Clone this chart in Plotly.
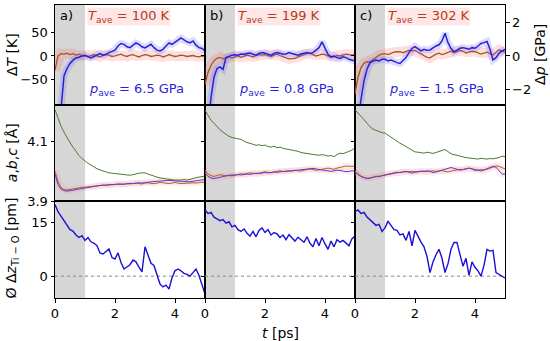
import plotly.graph_objects as go

# ---------------- data ----------------
t = [round(0.1 * i, 1) for i in range(51)]

T_ave_labels = ["100", "199", "302"]
p_ave_labels = ["6.5", "0.8", "1.5"]
panel_labels = ["a)", "b)", "c)"]

dT_a = [-30, 0, 5, 4, 6, 3, 5, 2, 4, 1, 2, -1, 1, 3, 0, -2, 1, 3, 2, -1, 0, 2, 4, 1, -1, 2, 3, 0, -2, 1,
        3, 2, -1, 0, 2, 1, -2, 0, 3, 1, -1, 0, 2, 1, -1, 0, 1, -1, -2, 0, -1]
dT_b = [-60, -35, -20, -10, -5, -3, -6, -4, -2, -4, -2, 0, -3, -1, 2, 0, -2, 1, 3, 2, 3, 1, -1, 2, 4, 1,
        -2, -4, -6, -5, -5, -2, 1, 3, 5, 6, 3, 0, 2, 4, 3, 0, -3, -2, 1, 0, 2, 4, 3, 2, 3]
dT_c = [-80, -45, -25, -15, -12, -13, -8, -3, 2, 4, 5, 3, 6, 8, 9, 9, 7, 10, 12, 11, 12, 8, 4, 0, -3, -4,
        0, 4, 6, 3, 5, 8, 10, 7, 9, 12, 10, 6, 8, 10, 9, 7, 4, 6, 8, 5, 2, 8, 13, 10, 8]

dp_a = [-5, -4.5, -3.2, -1.2, -0.75, -0.45, -0.25, -0.12, -0.08, 0.0, 0.02, -0.05, -0.12, -0.03, 0.08,
        0.15, 0.05, 0.1, 0.2, 0.28, 0.35, 0.6, 0.75, 0.7, 0.55, 0.5, 0.65, 0.78, 0.7, 0.55, 0.48, 0.6, 0.7,
        0.5, 0.35, 0.3, 0.4, 0.6, 0.78, 0.7, 0.8, 0.95, 1.08, 0.95, 0.85, 0.78, 0.9, 0.65, 0.5, 0.45, 0.3]
dp_b = [-6, -4, -2.5, -1.27, -0.75, -0.65, -0.8, -0.1, 0.0, 0.05, 0.08, 0.05, 0.12, 0.1, 0.15, 0.17, 0.1,
        0.05, 0.15, 0.2, 0.17, 0.1, 0.05, 0.15, 0.2, 0.17, 0.1, 0.12, 0.2, 0.15, 0.08, 0.05, 0.12, 0.18,
        0.2, 0.15, 0.2, 0.35, 0.5, 0.85, 0.45, 0.1, -0.05, 0.0, -0.1, -0.15, -0.05, -0.1, -0.2, -0.25, -0.3]
dp_c = [-6, -4, -2.6, -1.5, -0.8, -0.4, -0.3, -0.25, -0.3, -0.2, -0.2, -0.3, -0.25, -0.35, -0.4, -0.45,
        -0.3, -0.1, 0.2, 0.45, 0.56, 0.45, 0.3, 0.4, 0.35, 0.36, 0.5, 0.6, 0.67, 0.9, 1.37, 0.8, 0.45, 0.26,
        0.35, 0.46, 0.5, 0.45, 0.4, 0.5, 0.46, 0.6, 0.75, 0.8, 0.87, 0.4, -0.24, -0.1, 0.16, 0.3, 0.4]

latc_a = [4.205, 4.175, 4.15, 4.13, 4.11, 4.095, 4.08, 4.065, 4.052, 4.042, 4.033, 4.026, 4.02, 4.013,
          4.008, 4.004, 4.0, 3.997, 3.994, 3.993, 3.992, 3.99, 3.989, 3.987, 3.986, 3.986, 3.988, 3.991,
          3.993, 3.994, 3.994, 3.99, 3.986, 3.982, 3.98, 3.977, 3.975, 3.974, 3.972, 3.971, 3.97, 3.969,
          3.97, 3.972, 3.97, 3.972, 3.976, 3.978, 3.98, 3.982, 3.983]
latb_a = [4.0, 3.965, 3.945, 3.938, 3.937, 3.938, 3.94, 3.942, 3.944, 3.945, 3.947, 3.948, 3.95, 3.95,
          3.951, 3.953, 3.952, 3.954, 3.955, 3.954, 3.956, 3.957, 3.955, 3.957, 3.958, 3.957, 3.958, 3.96,
          3.958, 3.957, 3.96, 3.961, 3.959, 3.958, 3.96, 3.962, 3.961, 3.959, 3.958, 3.96, 3.962, 3.96,
          3.958, 3.959, 3.96, 3.962, 3.961, 3.96, 3.962, 3.963, 3.962]
lata_a = [3.99, 3.955, 3.94, 3.935, 3.933, 3.934, 3.936, 3.938, 3.94, 3.942, 3.944, 3.946, 3.948, 3.949,
          3.95, 3.952, 3.953, 3.952, 3.954, 3.955, 3.955, 3.956, 3.957, 3.956, 3.958, 3.959, 3.958, 3.96,
          3.961, 3.96, 3.962, 3.963, 3.964, 3.965, 3.966, 3.968, 3.969, 3.97, 3.969, 3.968, 3.967, 3.966,
          3.965, 3.964, 3.963, 3.964, 3.966, 3.968, 3.97, 3.971, 3.972]

latc_b = [4.203, 4.185, 4.17, 4.16, 4.148, 4.138, 4.13, 4.122, 4.116, 4.112, 4.11, 4.109, 4.106, 4.1,
          4.095, 4.093, 4.09, 4.086, 4.088, 4.085, 4.087, 4.082, 4.08, 4.083, 4.078, 4.08, 4.076, 4.074,
          4.072, 4.072, 4.07, 4.066, 4.062, 4.06, 4.058, 4.056, 4.055, 4.054, 4.053, 4.055, 4.053, 4.05,
          4.052, 4.048, 4.055, 4.06, 4.058, 4.062, 4.065, 4.07, 4.078]
latb_b = [4.003, 3.99, 3.985, 3.982, 3.985, 3.988, 3.986, 3.984, 3.986, 3.988, 3.987, 3.989, 3.991, 3.99,
          3.992, 3.994, 3.993, 3.991, 3.993, 3.996, 3.998, 3.996, 3.994, 3.997, 3.999, 4.001, 3.999, 3.998,
          4.0, 4.002, 4.003, 4.001, 4.0, 4.003, 4.005, 4.007, 4.005, 4.003, 4.004, 4.006, 4.008, 4.01,
          4.008, 4.006, 4.01, 4.013, 4.015, 4.017, 4.016, 4.017, 4.016]
lata_b = [3.995, 3.982, 3.977, 3.975, 3.977, 3.98, 3.982, 3.984, 3.985, 3.984, 3.986, 3.988, 3.987, 3.989,
          3.99, 3.989, 3.991, 3.993, 3.992, 3.994, 3.995, 3.994, 3.996, 3.997, 3.996, 3.998, 3.999, 4.0,
          4.001, 4.0, 4.002, 4.003, 4.004, 4.005, 4.006, 4.008, 4.009, 4.007, 4.005, 4.003, 4.002, 4.0,
          3.999, 4.001, 4.003, 4.002, 4.0, 3.998, 3.999, 4.001, 4.0]

latc_c = [4.205, 4.195, 4.185, 4.172, 4.16, 4.148, 4.14, 4.136, 4.13, 4.128, 4.127, 4.12, 4.113, 4.105,
          4.1, 4.093, 4.088, 4.082, 4.075, 4.068, 4.064, 4.063, 4.062, 4.06, 4.063, 4.061, 4.059, 4.062,
          4.065, 4.07, 4.072, 4.065, 4.058, 4.055, 4.052, 4.05, 4.048, 4.045, 4.044, 4.042, 4.042, 4.04,
          4.043, 4.041, 4.04, 4.042, 4.041, 4.043, 4.045, 4.05, 4.048]
latb_c = [4.0, 3.99, 3.983, 3.978, 3.976, 3.977, 3.979, 3.982, 3.984, 3.986, 3.988, 3.99, 3.991, 3.993,
          3.995, 3.996, 3.997, 3.998, 3.998, 3.999, 3.998, 3.997, 3.999, 4.0, 3.998, 4.0, 4.001, 3.999,
          4.0, 4.002, 3.999, 3.997, 4.0, 4.002, 4.004, 4.006, 4.005, 4.008, 4.01, 4.008, 4.006, 4.003,
          4.005, 4.004, 4.006, 4.01, 4.014, 4.017, 4.016, 4.012, 4.007]
lata_c = [3.998, 3.988, 3.982, 3.978, 3.975, 3.976, 3.98, 3.983, 3.982, 3.985, 3.987, 3.99, 3.992, 3.994,
          3.996, 3.995, 3.997, 3.999, 3.996, 3.993, 3.996, 3.999, 4.0, 3.998, 4.001, 3.999, 3.995, 3.997,
          4.0, 4.002, 4.006, 4.01, 4.012, 4.009, 4.005, 4.003, 4.005, 4.008, 4.01, 4.007, 4.002, 4.004,
          4.0, 4.004, 4.008, 4.012, 4.016, 4.013, 4.0, 3.99, 3.99]

dz_a = [20, 18, 16.8, 15.5, 14.2, 13, 12.6, 11.5, 10.8, 11.3, 10, 10.8, 9.6, 9.2, 8.5, 6.5, 6.2, 6.8, 7.6,
        5.2, 4.8, 6.5, 3.8, 2.0, 2.5, 3.2, 4.5, 4.0, 2.5, 1.2, 8.2, 6.0, 3.6, 3.0, 0.5, -2.2, -3.0, -2.5,
        -3.6, -0.5, 1.5, 2.0, 1.5, 0.8, 0.5, 0.0, 1.0, 2.0, 0.2, -2.5, -5]
dz_b = [18.5, 17.5, 17.8, 16.5, 16.0, 15.5, 15.8, 14.8, 15.2, 13.8, 14.2, 13.0, 12.5, 13.2, 12.0, 11.2,
        12.5, 11.0, 12.8, 13.5, 12.2, 13.0, 11.5, 12.2, 11.8, 10.8, 11.5, 10.2, 11.6, 10.8, 9.8, 10.9,
        10.2, 9.5, 11.0, 9.2, 8.2, 10.5, 8.5, 10.8, 9.0, 7.5, 9.8, 8.2, 10.2, 9.5, 10.0, 9.2, 8.5, 10.5, 11.2]
dz_c = [18, 18.5, 17.5, 17.8, 16.5, 15.7, 15.0, 14.2, 14.5, 12.5, 13.5, 15.3, 14.2, 13.0, 12.8, 11.5,
        11.8, 10.0, 12.5, 8.5, 12.8, 11.0, 9.5, 8.2, 5.5, 1.0, 4.0, 6.0, 7.5, 5.0, 1.0, 3.5, 7.5, 9.4, 9.4,
        6.0, 2.8, 5.0, 0.2, 4.0, 2.5, 1.5, 0.0, 3.0, 7.5, 7.0, 7.2, 1.0, 0.5, -0.2, -0.5]

dT = [dT_a, dT_b, dT_c]
dp = [dp_a, dp_b, dp_c]
lat_c = [latc_a, latc_b, latc_c]
lat_b = [latb_a, latb_b, latb_c]
lat_a = [lata_a, lata_b, lata_c]
dz = [dz_a, dz_b, dz_c]

# ---------------- styling ----------------
FONT = "DejaVu Sans"
C_T = "#9a5a2a"
C_Ttxt = "#b0401c"
C_P = "#2a1fd8"
C_G = "#4e7c2c"
C_O = "#a46a30"
C_B = "#5a3ed6"

col_dom = [[0, 1 / 3], [1 / 3, 2 / 3], [2 / 3, 1]]
row_dom = [[0.66, 1.0], [0.331, 0.66], [0.0, 0.331]]
yranges = [[-103, 108], [3.9, 4.222], [-6.1, 21]]
yticks = [[-50, 0, 50], [3.9, 4.1], [0, 15]]
ptick_range = [-2.92, 3.06]

fig = go.Figure()
layout = {}
shapes = []
annotations = []

def ax(name, k):
    return name if k == 1 else f"{name}{k}"

for r in range(3):
    for c in range(3):
        k = r * 3 + c + 1
        xa, ya = ax("x", k), ax("y", k)
        layout[ax("xaxis", k)] = dict(
            domain=col_dom[c], anchor=ya, range=[0, 5], showline=True, mirror=True,
            linecolor="black", linewidth=1, showgrid=False, zeroline=False,
            ticks="outside" if r == 2 else "", ticklen=3.5, tickwidth=1, tickcolor="black",
            tickvals=[0, 2, 4], showticklabels=(r == 2),
            tickfont=dict(family=FONT, size=13, color="black"))
        layout[ax("yaxis", k)] = dict(
            domain=row_dom[r], anchor=xa, range=yranges[r], showline=True, mirror=True,
            linecolor="black", linewidth=1, showgrid=False, zeroline=False,
            ticks="outside", ticklen=3.5, tickwidth=1, tickcolor="black",
            tickvals=yticks[r], showticklabels=(c == 0),
            tickfont=dict(family=FONT, size=13, color="black"))
        shapes.append(dict(type="rect", xref=xa, yref=f"{ya} domain", x0=0, x1=1, y0=0, y1=1,
                           fillcolor="#d6d6d6", line=dict(width=0), layer="below"))
        if r == 2:
            shapes.append(dict(type="line", xref=xa, yref=ya, x0=0, x1=5, y0=0, y1=0,
                               line=dict(color="#888888", width=1, dash="dot"), layer="below"))

# secondary (pressure) axes on top row
for c in range(3):
    k = 10 + c
    layout[f"yaxis{k}"] = dict(
        overlaying=ax("y", c + 1), anchor=ax("x", c + 1), side="right", range=ptick_range,
        showgrid=False, zeroline=False, showline=False,
        ticks="outside" if c == 2 else "", ticklen=3.5, tickwidth=1, tickcolor="black",
        tickvals=[-2, 0, 2], showticklabels=(c == 2),
        tickfont=dict(family=FONT, size=13, color="black"))

for c in range(3):
    k1, k2, k3 = c + 1, c + 4, c + 7
    fig.add_trace(go.Scatter(x=t, y=dT[c], xaxis=ax("x", k1), yaxis=ax("y", k1), mode="lines",
                             line=dict(color="rgba(255,90,90,0.20)", width=10), hoverinfo="skip"))
    fig.add_trace(go.Scatter(x=t, y=dp[c], xaxis=ax("x", k1), yaxis=f"y{10 + c}", mode="lines",
                             line=dict(color="rgba(100,100,255,0.22)", width=7), hoverinfo="skip"))
    fig.add_trace(go.Scatter(x=t, y=dT[c], xaxis=ax("x", k1), yaxis=ax("y", k1), mode="lines",
                             line=dict(color=C_T, width=1.3)))
    fig.add_trace(go.Scatter(x=t, y=dp[c], xaxis=ax("x", k1), yaxis=f"y{10 + c}", mode="lines",
                             line=dict(color=C_P, width=1.5)))
    for arr in [lat_b[c], lat_a[c]]:
        fig.add_trace(go.Scatter(x=t, y=arr, xaxis=ax("x", k2), yaxis=ax("y", k2), mode="lines",
                                 line=dict(color="rgba(255,150,150,0.18)", width=6), hoverinfo="skip"))
    for arr, col in [(lat_c[c], C_G), (lat_b[c], C_O), (lat_a[c], C_B)]:
        fig.add_trace(go.Scatter(x=t, y=arr, xaxis=ax("x", k2), yaxis=ax("y", k2), mode="lines",
                                 line=dict(color=col, width=1)))
    fig.add_trace(go.Scatter(x=t, y=dz[c], xaxis=ax("x", k3), yaxis=ax("y", k3), mode="lines",
                             line=dict(color="#1a10d8", width=1.4)))

    annotations.append(dict(text=panel_labels[c], xref="paper", yref="paper",
                            x=col_dom[c][0] + 0.006, y=0.995, xanchor="left", yanchor="top",
                            showarrow=False, font=dict(family=FONT, size=13, color="black")))
    annotations.append(dict(text=f"<i>T</i><sub>ave</sub> = {T_ave_labels[c]} K", xref="paper",
                            yref="paper", x=col_dom[c][0] + 0.165, y=0.962, xanchor="center",
                            yanchor="middle", showarrow=False, bgcolor="rgba(255,215,215,0.6)",
                            borderpad=0, font=dict(family=FONT, size=13, color=C_Ttxt)))
    annotations.append(dict(text=f"<i>p</i><sub>ave</sub> = {p_ave_labels[c]} GPa", xref="paper",
                            yref="paper", x=col_dom[c][0] + 0.18, y=0.712, xanchor="center",
                            yanchor="middle", showarrow=False,
                            font=dict(family=FONT, size=13, color=C_P)))

annotations += [
    dict(text="Δ<i>T</i> [K]", xref="paper", yref="paper", x=-0.095, y=0.83, textangle=-90,
         showarrow=False, xanchor="center", yanchor="middle", font=dict(family=FONT, size=14)),
    dict(text="<i>a</i>,<i>b</i>,<i>c</i> [Å]", xref="paper", yref="paper", x=-0.095, y=0.495,
         textangle=-90, showarrow=False, xanchor="center", yanchor="middle",
         font=dict(family=FONT, size=14)),
    dict(text="Ø Δ<i>z</i><sub>Ti − O</sub> [pm]", xref="paper", yref="paper", x=-0.095, y=0.17,
         textangle=-90, showarrow=False, xanchor="center", yanchor="middle",
         font=dict(family=FONT, size=14)),
    dict(text="Δ<i>p</i> [GPa]", xref="paper", yref="paper", x=1.078, y=0.83, textangle=-90,
         showarrow=False, xanchor="center", yanchor="middle", font=dict(family=FONT, size=14)),
    dict(text="<i>t</i> [ps]", xref="paper", yref="paper", x=0.5, y=-0.085, showarrow=False,
         xanchor="center", yanchor="top", font=dict(family=FONT, size=14)),
]

fig.update_layout(
    width=550, height=341, margin=dict(l=55, r=45, t=5, b=43),
    paper_bgcolor="white", plot_bgcolor="white", showlegend=False,
    font=dict(family=FONT, size=13, color="black"),
    shapes=shapes, annotations=annotations, **layout)

fig.write_html("out.html", config={"displayModeBar": False},
               post_script="document.body.style.margin='0';document.body.style.overflow='hidden';")
